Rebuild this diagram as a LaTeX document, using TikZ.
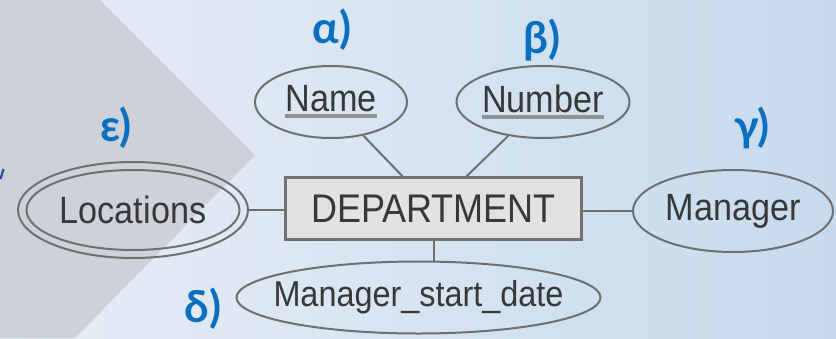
\documentclass[tikz,border=0pt]{standalone}
\usepackage{fontspec}
\usetikzlibrary{shapes.geometric}

\newfontfamily\attrfont[FakeStretch=0.9]{Liberation Sans}
\newfontfamily\tagfont{Lato}

\definecolor{bgleft}{HTML}{E6EEF6}
\definecolor{bgright}{HTML}{C7DAED}
\definecolor{chevron}{HTML}{CED1DA}
\definecolor{strokegray}{HTML}{707070}
\definecolor{boxfill}{HTML}{E2E2E2}
\definecolor{tagblue}{HTML}{0B6FC0}
\definecolor{inktext}{HTML}{383838}
\definecolor{ulgray}{HTML}{929292}
\definecolor{markblue}{HTML}{2F4C9C}

% key attribute: text with a thick gray underline
\newcommand\keyattr[1]{\leavevmode\setbox0=\hbox{#1}%
  \rlap{\color{ulgray}\vrule width \wd0 height -2.5pt depth 6.5pt}\box0}

\tikzset{
  % ellipse outline of a fixed size; its text is set as a centred label
  attr/.style={ellipse, draw=strokegray, line width=2pt, inner sep=0pt},
  attrtext/.style={inner sep=0pt, text=inktext,
    font=\attrfont\fontsize{38}{40}\selectfont},
  entity/.style={rectangle, draw=strokegray, line width=2.5pt, fill=boxfill,
    minimum width=296pt, minimum height=62pt, inner sep=0pt,
    font=\attrfont\fontsize{40}{42}\selectfont, text=inktext},
  tag/.style={font=\tagfont\bfseries\fontsize{44}{46}\selectfont, text=tagblue,
    inner sep=0pt},
  link/.style={draw=strokegray, line width=2pt}
}

\begin{document}
\begin{tikzpicture}[x=1pt, y=-1pt]
  % backdrop
  \useasboundingbox (0,0) rectangle (836,338);
  \shade[left color=bgleft, right color=bgright] (0,0) rectangle (836,338);
  \fill[chevron] (0,0) -- (100,0) -- (255,155) -- (75,338) -- (0,338) -- cycle;
  \draw[markblue, line width=2.2pt] (3.5,169) -- (0.5,179);

  % entity
  \node[entity] (dept) at (433.5,208.5) {DEPARTMENT};

  % attributes
  \node[attr, minimum width=152pt, minimum height=72pt,
        label={[attrtext]center:\keyattr{Name}}] (name) at (331,102) {};
  \node[attr, minimum width=173pt, minimum height=72pt,
        label={[attrtext]center:\keyattr{Number}}] (number) at (543,102) {};
  \node[attr, minimum width=230pt, minimum height=96pt,
        label={[attrtext]center:Locations}] (loc) at (133,210) {};
  \draw[strokegray, line width=2pt] (loc.center) ellipse [x radius=106.5pt, y radius=40pt];
  \node[attr, minimum width=200pt, minimum height=82pt,
        label={[attrtext]center:Manager}] (mgr) at (733,211) {};
  \node[attr, minimum width=364pt, minimum height=72pt,
        label={[attrtext, font=\attrfont\fontsize{36}{38}\selectfont]center:Manager\_start\_date}]
        (date) at (418.5,297.5) {};

  % connectors
  \draw[link] (name) -- (dept);
  \draw[link] (number) -- (dept);
  \draw[link] (loc.east) -- (loc.east -| dept.west);
  \draw[link] (dept.east |- mgr.west) -- (mgr.west);
  \draw[link] (dept.south) -- (dept.south |- date.north);

  % item labels
  \node[tag] (ta) at (332,30) {α)};
  \node[tag] (tb) at (542,40) {β)};
  \node[tag] (tc) at (752,128) {γ)};
  \node[tag] (td) at (203,309) {δ)};
  \node[tag] (te) at (116,128) {ε)};
\end{tikzpicture}
\end{document}
